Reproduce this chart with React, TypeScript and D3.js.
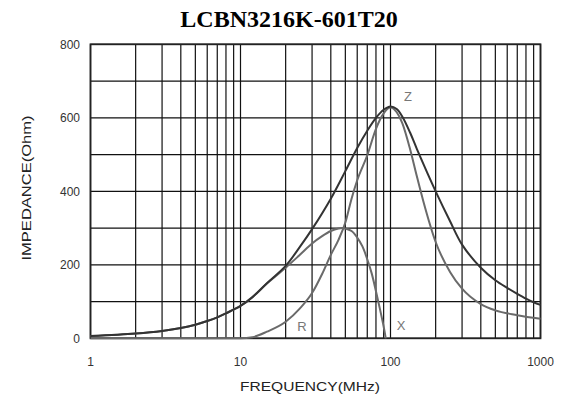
import React from "react";
import * as d3 from "d3";

const title = "LCBN3216K-601T20";
const xTicks = [1, 10, 100, 1000];
const yTicks = [0, 200, 400, 600, 800];
const yGrid = [0, 100, 200, 300, 400, 500, 600, 700, 800];

const freqZ = [1, 2, 3, 4, 5, 6, 7, 8, 10, 12, 15, 20, 25, 30, 40, 50, 60, 70, 80, 90, 100, 110, 120, 135, 150, 175, 200, 250, 300, 400, 500, 600, 700, 800, 900, 1000];
const valsZ = [6, 13, 20, 28, 37, 47, 57, 68, 88, 112, 150, 197, 250, 297, 380, 455, 518, 565, 600, 622, 631, 624, 603, 560, 515, 452, 400, 318, 255, 192, 158, 137, 121, 108, 98, 91];

const freqR = [1, 10, 12, 15, 20, 25, 30, 35, 40, 45, 50, 55, 60, 70, 80, 90, 100, 110, 120, 135, 150, 165, 200, 250, 300, 400, 500, 700, 1000];
const valsR = [0, 0, 3, 18, 45, 82, 123, 175, 227, 268, 315, 380, 430, 498, 570, 612, 628, 615, 585, 515, 440, 375, 262, 180, 135, 93, 76, 63, 53];

const freqX = [1, 2, 3, 4, 5, 6, 7, 8, 10, 12, 15, 20, 25, 30, 35, 40, 45, 48, 50, 55, 60, 65, 70, 75, 80, 85, 90, 93];
const valsX = [6, 13, 20, 28, 37, 47, 57, 68, 88, 112, 149, 192, 228, 258, 278, 292, 299, 300, 299, 292, 274, 250, 215, 176, 128, 80, 32, 0];

const W = 563;
const H = 398;
const L = 90.5, R = 540.5, T = 44.3, B = 338.3;

export default function App() {
  const x = d3.scaleLog().domain([1, 1000]).range([L, R]);
  const y = d3.scaleLinear().domain([0, 800]).range([B, T]);
  const xGrid: number[] = [];
  for (let d = 1; d < 1000; d *= 10) for (let k = 1; k <= 9; k++) xGrid.push(d * k);
  xGrid.push(1000);

  const smooth = d3
    .line<[number, number]>()
    .x((d) => x(d[0]))
    .y((d) => y(Math.max(0, d[1])))
    .curve(d3.curveCatmullRom.alpha(0.5));
  const mono = d3
    .line<[number, number]>()
    .x((d) => x(d[0]))
    .y((d) => y(d[1]))
    .curve(d3.curveMonotoneX);
  const zip = (f: number[], v: number[]) => f.map((ff, i) => [ff, v[i]] as [number, number]);

  const sans = "'Liberation Sans', Arial, sans-serif";
  return (
    <svg width={W} height={H} style={{ position: "absolute", left: 0, top: 0, background: "#fff" }}>
      <rect x={0} y={0} width={W} height={H} fill="#fff" />
      <text x={289} y={27} textAnchor="middle" fontFamily="'Liberation Serif', 'Times New Roman', serif" fontWeight="bold" fontSize={24} fill="#000">
        {title}
      </text>
      {xGrid.map((f) => (
        <line key={"vx" + f} x1={x(f)} x2={x(f)} y1={T} y2={B} stroke="#111" strokeWidth={1.2} />
      ))}
      {yGrid.map((v) => (
        <line key={"hy" + v} x1={L} x2={R} y1={y(v)} y2={y(v)} stroke="#111" strokeWidth={1.2} />
      ))}
      <rect x={L} y={T} width={R - L} height={B - T} fill="none" stroke="#222" strokeWidth={1.8} />
      <path d={mono(zip(freqR, valsR)) || ""} fill="none" stroke="#6a6a6a" strokeWidth={2} />
      <path d={smooth(zip(freqX, valsX)) || ""} fill="none" stroke="#6a6a6a" strokeWidth={2} />
      <path d={smooth(zip(freqZ, valsZ)) || ""} fill="none" stroke="#333" strokeWidth={2} />
      {yTicks.map((v) => (
        <text key={"yt" + v} x={80} y={y(v)} dy="0.35em" textAnchor="end" fontFamily={sans} fontSize={12} fill="#333">
          {v}
        </text>
      ))}
      {xTicks.map((f) => (
        <text key={"xt" + f} x={x(f)} y={366} textAnchor="middle" fontFamily={sans} fontSize={12} fill="#333">
          {f}
        </text>
      ))}
      <text x={310} y={391} textAnchor="middle" fontFamily={sans} fontSize={13} fill="#222" textLength={140} lengthAdjust="spacingAndGlyphs">
        FREQUENCY(MHz)
      </text>
      <text transform="translate(31,188) rotate(-90)" textAnchor="middle" fontFamily={sans} fontSize={13} fill="#222" textLength={145} lengthAdjust="spacingAndGlyphs">
        IMPEDANCE(Ohm)
      </text>
      <text x={408} y={101} textAnchor="middle" fontFamily={sans} fontSize={13} fill="#777">Z</text>
      <text x={302} y={331} textAnchor="middle" fontFamily={sans} fontSize={13} fill="#777">R</text>
      <text x={401} y={330} textAnchor="middle" fontFamily={sans} fontSize={13} fill="#777">X</text>
    </svg>
  );
}
